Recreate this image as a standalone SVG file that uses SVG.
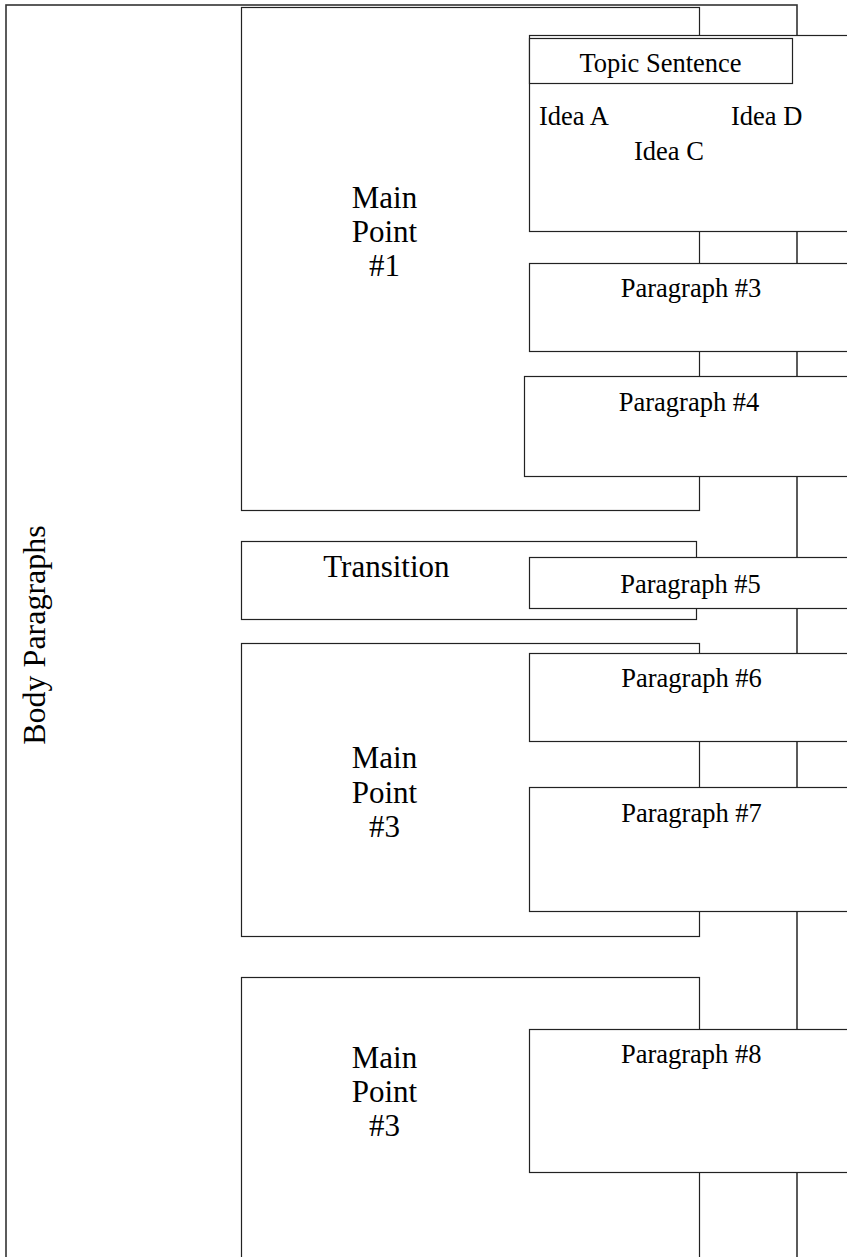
<svg xmlns="http://www.w3.org/2000/svg" width="847" height="1257" viewBox="0 0 847 1257">
<style>
.box{fill:#fff;stroke:#222;stroke-width:1.2}
.outer{fill:none;stroke:#333;stroke-width:1.6}
text{font-family:"Liberation Serif","Times New Roman",serif;fill:#000}
.p{font-size:26.5px;text-anchor:middle}
.i{font-size:26.5px}
.m{font-size:31px;text-anchor:middle}
</style>
<rect width="847" height="1257" fill="#fff"/>
<g id="body-paragraphs">
<rect class="outer" x="6" y="5" width="791" height="1300"/>
<text x="45" y="635" font-size="32" text-anchor="middle" transform="rotate(-90 45 635)">Body Paragraphs</text>
</g>
<g id="main-point-1">
<rect class="box" x="241.5" y="7.5" width="458" height="503"/>
<text class="m" x="384.5" y="207.7">Main</text>
<text class="m" x="384.5" y="241.7">Point</text>
<text class="m" x="384.5" y="276">#1</text>
</g>
<g id="paragraph-2">
<rect class="box" x="529.5" y="35.5" width="400" height="196"/>
<g id="topic-sentence">
<rect class="box" x="529.5" y="38.5" width="263" height="45"/>
<text class="p" x="660.5" y="71.7">Topic Sentence</text>
</g>
<text class="i" x="539" y="125">Idea A</text>
<text class="i" x="731" y="125">Idea D</text>
<text class="i" x="634" y="160">Idea C</text>
</g>
<g id="paragraph-3">
<rect class="box" x="529.5" y="263.5" width="400" height="88"/>
<text class="p" x="691" y="297.3">Paragraph #3</text>
</g>
<g id="paragraph-4">
<rect class="box" x="524.5" y="376.5" width="400" height="100"/>
<text class="p" x="689" y="410.7">Paragraph #4</text>
</g>
<g id="transition">
<rect class="box" x="241.5" y="541.5" width="455" height="78"/>
<text class="m" x="386.4" y="576.7">Transition</text>
</g>
<g id="paragraph-5">
<rect class="box" x="529.5" y="557.5" width="400" height="51"/>
<text class="p" x="690.5" y="592.5">Paragraph #5</text>
</g>
<g id="main-point-3a">
<rect class="box" x="241.5" y="643.5" width="458" height="293"/>
<text class="m" x="384.5" y="768.3">Main</text>
<text class="m" x="384.5" y="802.7">Point</text>
<text class="m" x="384.5" y="837.3">#3</text>
</g>
<g id="paragraph-6">
<rect class="box" x="529.5" y="653.5" width="400" height="88"/>
<text class="p" x="691.5" y="686.7">Paragraph #6</text>
</g>
<g id="paragraph-7">
<rect class="box" x="529.5" y="787.5" width="400" height="124"/>
<text class="p" x="691.5" y="821.7">Paragraph #7</text>
</g>
<g id="main-point-3b">
<rect class="box" x="241.5" y="977.5" width="458" height="400"/>
<text class="m" x="384.5" y="1067.7">Main</text>
<text class="m" x="384.5" y="1101.7">Point</text>
<text class="m" x="384.5" y="1136">#3</text>
</g>
<g id="paragraph-8">
<rect class="box" x="529.5" y="1029.5" width="400" height="143"/>
<text class="p" x="691.2" y="1062.7">Paragraph #8</text>
</g>
<g id="connectors"></g>
</svg>
